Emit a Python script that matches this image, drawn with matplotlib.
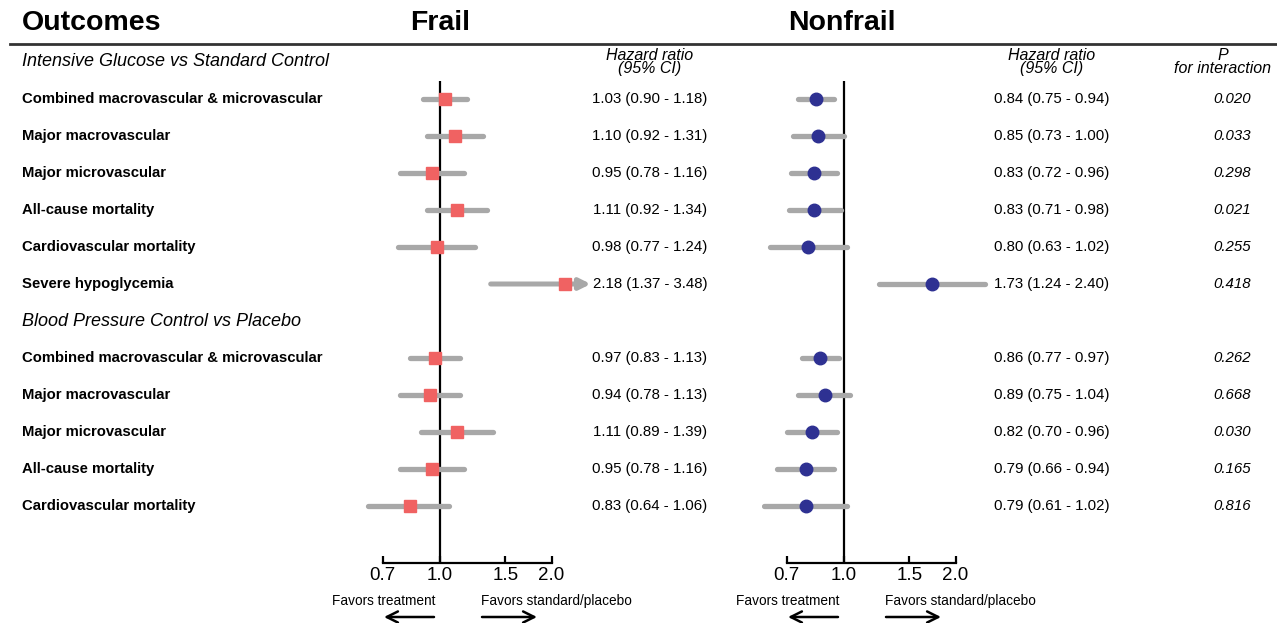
import matplotlib
matplotlib.use("Agg")
import matplotlib.pyplot as plt
from matplotlib.ticker import NullLocator
import numpy as np

plt.rcParams["font.family"] = ["Liberation Sans", "DejaVu Sans"]

# ---- data -------------------------------------------------------------
sections = ["Intensive Glucose vs Standard Control", "Blood Pressure Control vs Placebo"]
outcomes = [
    ["Combined macrovascular & microvascular", "Major macrovascular", "Major microvascular",
     "All-cause mortality", "Cardiovascular mortality", "Severe hypoglycemia"],
    ["Combined macrovascular & microvascular", "Major macrovascular", "Major microvascular",
     "All-cause mortality", "Cardiovascular mortality"],
]
frail_hr = [1.03, 1.10, 0.95, 1.11, 0.98, 2.18, 0.97, 0.94, 1.11, 0.95, 0.83]
frail_lo = [0.90, 0.92, 0.78, 0.92, 0.77, 1.37, 0.83, 0.78, 0.89, 0.78, 0.64]
frail_hi = [1.18, 1.31, 1.16, 1.34, 1.24, 3.48, 1.13, 1.13, 1.39, 1.16, 1.06]
nonfrail_hr = [0.84, 0.85, 0.83, 0.83, 0.80, 1.73, 0.86, 0.89, 0.82, 0.79, 0.79]
nonfrail_lo = [0.75, 0.73, 0.72, 0.71, 0.63, 1.24, 0.77, 0.75, 0.70, 0.66, 0.61]
nonfrail_hi = [0.94, 1.00, 0.96, 0.98, 1.02, 2.40, 0.97, 1.04, 0.96, 0.94, 1.02]
p_interaction = ["0.020", "0.033", "0.298", "0.021", "0.255", "0.418",
                 "0.262", "0.668", "0.030", "0.165", "0.816"]
xticks = [0.7, 1.0, 1.5, 2.0]
xticklabels = ["0.7", "1.0", "1.5", "2.0"]

# ---- layout -----------------------------------------------------------
W, H = 1277, 623
fig = plt.figure(figsize=(W / 100, H / 100), dpi=100)
bg = fig.add_axes([0, 0, 1, 1])
bg.set_xlim(0, W)
bg.set_ylim(H, 0)
bg.axis("off")

row0, dy = 62, 37          # pixel y of first section header, row spacing
k = 161                    # pixels per ln unit on the forest axes
xmin, xmax = 0.6, 2.7
clip_max = 2.55
ytop, ybot = 81, 563
red, navy, gray = "#F06262", "#2E3192", "#A8A8A8"

# row index for each outcome
rows, sec_rows = [], []
r = 0
for s, outs in zip(sections, outcomes):
    sec_rows.append(r)
    for o in outs:
        r += 1
        rows.append(r)
    r += 1
rows = np.array(rows)
labels = [o for outs in outcomes for o in outs]


def forest_axes(center_px):
    left = center_px + k * np.log(xmin)
    right = center_px + k * np.log(xmax)
    ax = fig.add_axes([left / W, 1 - ybot / H, (right - left) / W, (ybot - ytop) / H])
    ax.set_xscale("log")
    ax.set_xlim(xmin, xmax)
    ax.set_ylim((ybot - row0) / dy, (ytop - row0) / dy)
    for sp in ["top", "right", "left"]:
        ax.spines[sp].set_visible(False)
    ax.spines["bottom"].set_bounds(xticks[0], xticks[-1])
    ax.spines["bottom"].set_linewidth(1.6)
    ax.set_yticks([])
    ax.set_xticks(xticks)
    ax.set_xticklabels(xticklabels, fontsize=13.5)
    ax.xaxis.set_minor_locator(NullLocator())
    ax.tick_params(axis="x", direction="in", length=5, width=1.6, pad=3)
    ax.axvline(1.0, color="black", lw=1.6, zorder=1)
    ax.patch.set_alpha(0)
    return ax


def draw_panel(ax, hr, lo, hi, color, marker):
    for y, h, l, u in zip(rows, hr, lo, hi):
        if u > clip_max:
            ax.annotate("", xy=(clip_max, y), xytext=(l, y),
                        arrowprops=dict(arrowstyle="-|>,head_length=0.7,head_width=0.35",
                                        color=gray, lw=3.6,
                                        mutation_scale=9, shrinkA=0, shrinkB=0),
                        zorder=2)
        else:
            ax.plot([l, u], [y, y], color=gray, lw=3.8, solid_capstyle="round", zorder=2)
        ax.plot(h, y, marker=marker, color=color, ms=9, mec=color, zorder=3)


ax_f = forest_axes(440)
draw_panel(ax_f, frail_hr, frail_lo, frail_hi, red, "s")
ax_n = forest_axes(844)
draw_panel(ax_n, nonfrail_hr, nonfrail_lo, nonfrail_hi, navy, "o")

# ---- text -------------------------------------------------------------
bg.text(22, 23, "Outcomes", fontsize=20.5, fontweight="bold", va="center")
bg.text(440, 23, "Frail", fontsize=20.5, fontweight="bold", va="center", ha="center")
bg.text(842, 23, "Nonfrail", fontsize=20.5, fontweight="bold", va="center", ha="center")
bg.plot([10, W], [44, 44], color="#333333", lw=2)

for cx in [650, 1052]:
    bg.text(cx, 62, "Hazard ratio\n(95% CI)", fontsize=11.5, style="italic",
            ha="center", va="center", linespacing=0.9)
bg.text(1223, 62, "P\nfor interaction", fontsize=11.5, style="italic",
        ha="center", va="center", linespacing=0.9)

for s, sr in zip(sections, sec_rows):
    bg.text(22, row0 + dy * sr, s, fontsize=13, style="italic", va="center")

for i, (lab, rr) in enumerate(zip(labels, rows)):
    y = row0 + dy * rr
    bg.text(22, y, lab, fontsize=10.7, fontweight="bold", va="center")
    bg.text(650, y, f"{frail_hr[i]:.2f} ({frail_lo[i]:.2f} - {frail_hi[i]:.2f})",
            fontsize=10.8, ha="center", va="center")
    bg.text(1052, y, f"{nonfrail_hr[i]:.2f} ({nonfrail_lo[i]:.2f} - {nonfrail_hi[i]:.2f})",
            fontsize=10.8, ha="center", va="center")
    bg.text(1232, y, p_interaction[i], fontsize=10.8, style="italic", ha="center", va="center")

# favors labels and arrows
for cx in [440, 844]:
    bg.text(cx - 56, 601, "Favors treatment", fontsize=9.8, ha="center", va="center")
    bg.text(cx + 116, 601, "Favors standard/placebo", fontsize=9.8, ha="center", va="center")
    bg.annotate("", xy=(cx - 56, 617), xytext=(cx - 6, 617),
                arrowprops=dict(arrowstyle="->", lw=1.8, color="black",
                                mutation_scale=20, shrinkA=0, shrinkB=0))
    bg.annotate("", xy=(cx + 97, 617), xytext=(cx + 42, 617),
                arrowprops=dict(arrowstyle="->", lw=1.8, color="black",
                                mutation_scale=20, shrinkA=0, shrinkB=0))

fig.savefig("out.png", dpi=100)
